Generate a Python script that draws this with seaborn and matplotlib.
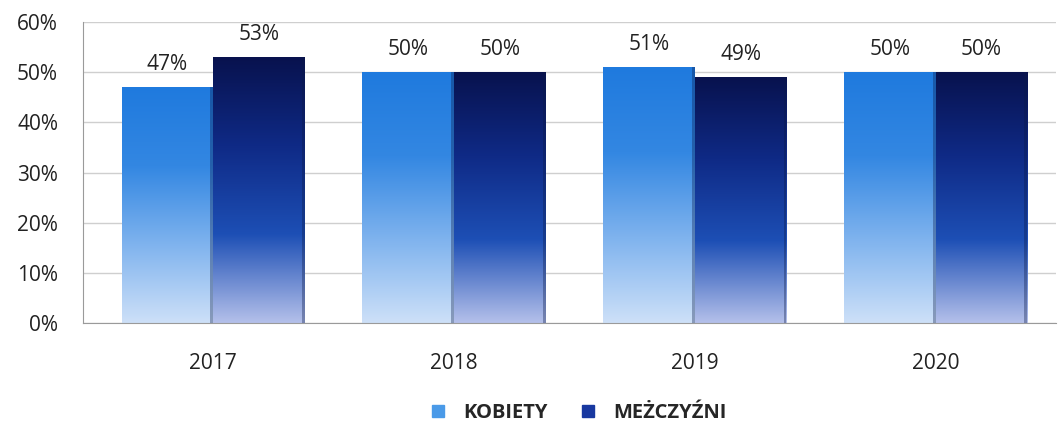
#!/usr/bin/env python3

import numpy as np
import pandas as pd
import matplotlib
matplotlib.use("Agg")
import matplotlib.pyplot as plt
from matplotlib.colors import LinearSegmentedColormap
from matplotlib.lines import Line2D
import seaborn as sns

years = ["2017", "2018", "2019", "2020"]
kobiety = [47, 50, 51, 50]
mezczyzni = [53, 50, 49, 50]
series_names = ["KOBIETY", "MEŻCZYŹNI"]
y_ticks = [0, 10, 20, 30, 40, 50, 60]

df = pd.DataFrame({
    "rok": years * 2,
    "udzial": kobiety + mezczyzni,
    "plec": [series_names[0]] * 4 + [series_names[1]] * 4,
})

sns.set_style("white")
plt.rcParams["font.family"] = ["Open Sans", "DejaVu Sans"]

# gradients: top -> bottom
cmaps = {
    series_names[0]: LinearSegmentedColormap.from_list(
        "k", ["#1f7ade", "#3387e2", "#7fb3ee", "#cde0f8"]),
    series_names[1]: LinearSegmentedColormap.from_list(
        "m", ["#08124e", "#0f2a86", "#1d4fb5", "#b4c0ea"]),
}
legend_colors = {series_names[0]: "#4a9ae8", series_names[1]: "#1838a0"}

fig = plt.figure(figsize=(10.59, 4.26), dpi=100)
ax = fig.add_axes([0.0784, 0.242, 0.919, 0.706])

sns.barplot(data=df, x="rok", y="udzial", hue="plec", hue_order=series_names,
            width=0.76, gap=0, ax=ax, legend=False, saturation=1)

grad = np.linspace(0, 1, 256).reshape(-1, 1)
n = len(years)
for i, patch in enumerate(ax.patches[:2 * n]):
    name = series_names[i // n]
    x0, y0 = patch.get_x(), patch.get_y()
    w, h = patch.get_width(), patch.get_height()
    patch.set_facecolor("none")
    patch.set_edgecolor("none")
    im = ax.imshow(grad, extent=[x0, x0 + w, y0, y0 + h], aspect="auto",
                   cmap=cmaps[name], origin="upper", zorder=2)
    im.set_clip_path(patch)
    # thin dark side to hint the 3D depth
    ax.fill_between([x0 + w - 0.012, x0 + w], 0, h, color="#0b1a48",
                    alpha=0.35, zorder=3, linewidth=0)
    ax.text(x0 + w / 2, h + 2.5, f"{h:.0f}%", ha="center", va="bottom",
            fontsize=15, color="#222222", zorder=4)

ax.set_xlim(-0.54, n - 0.5)
ax.set_ylim(0, 60)
ax.set_yticks(y_ticks)
ax.set_yticklabels([f"{t}%" for t in y_ticks])
ax.yaxis.grid(True, color="#cfcfcf", linewidth=1)
ax.set_axisbelow(True)
ax.tick_params(axis="y", labelsize=15, pad=18, length=0, colors="#222222")
ax.tick_params(axis="x", labelsize=15, pad=22, length=0, colors="#222222")
ax.set_xlabel("")
ax.set_ylabel("")
for side in ["top", "right"]:
    ax.spines[side].set_visible(False)
ax.spines["left"].set_color("#9a9a9a")
ax.spines["bottom"].set_color("#9a9a9a")

handles = [Line2D([], [], marker="s", linestyle="none", markersize=8,
                  color=legend_colors[s]) for s in series_names]
fig.legend(handles, series_names, loc="center", bbox_to_anchor=(0.54, 0.03),
           ncol=2, frameon=False, handletextpad=0.25, columnspacing=1.0,
           prop={"weight": "bold", "size": 14.5})

fig.savefig("out.png", dpi=100)
plt.close("all")
